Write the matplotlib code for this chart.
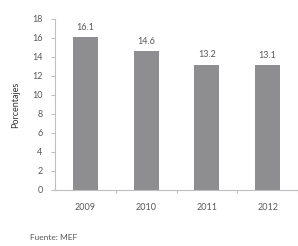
import matplotlib
matplotlib.use("Agg")
import matplotlib.pyplot as plt

years = ["2009", "2010", "2011", "2012"]
values = [16.1, 14.6, 13.2, 13.1]
labels = ["16.1", "14.6", "13.2", "13.1"]

plt.rcParams['font.family'] = ['Lato', 'DejaVu Sans']
txt = '#595959'
axc = '#bfbfbf'

fig = plt.figure(figsize=(2.98, 2.46), dpi=100)
ax = fig.add_axes([0.185, 0.228, 0.815, 0.695])

x = range(len(years))
ax.bar(x, values, width=0.41, color='#8e8e90', zorder=2)
for i, v in enumerate(values):
    ax.text(i, v + 0.55, labels[i], ha='center', va='bottom', fontsize=6.5, color=txt)

ax.set_xlim(-0.5, 3.5)
ax.set_ylim(0, 18)
ax.set_yticks(range(0, 19, 2))
ax.set_xticks([])
ax.set_xticks([0.5, 1.5, 2.5, 3.5], minor=True)
ax.tick_params(axis='x', which='minor', length=2.5, direction='out', color=axc, width=0.8)
for i, y in enumerate(years):
    ax.text(i, -1.4, y, ha='center', va='top', fontsize=6.5, color=txt)
ax.tick_params(axis='y', length=3, color=axc, labelsize=6.5, labelcolor=txt, width=0.8, pad=6)

for s in ['top', 'right']:
    ax.spines[s].set_visible(False)
for s in ['left', 'bottom']:
    ax.spines[s].set_color(axc)
    ax.spines[s].set_linewidth(0.8)

ax.set_ylabel('Porcentajes', fontsize=6.5, color='#333333', labelpad=9)
fig.text(0.10, 0.035, 'Fuente: MEF', fontsize=6, color=txt, ha='left', va='center')

fig.savefig('out.png', dpi=100)
